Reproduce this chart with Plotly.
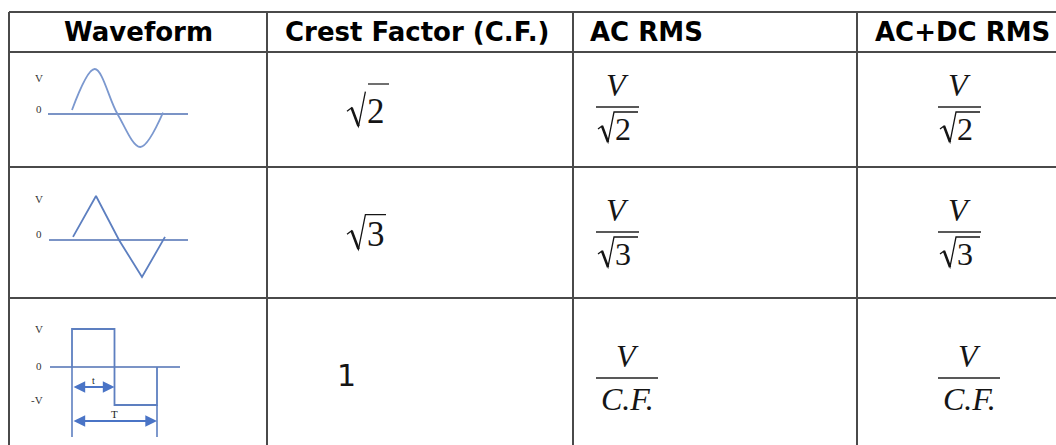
import plotly.graph_objects as go

# ---------------- data ----------------
headers = ["Waveform", "Crest Factor (C.F.)", "AC RMS", "AC+DC RMS"]
waveforms = ["sine", "triangle", "square"]
crest_factor = ["√2", "√3", "1"]
rms_numerator = ["V", "V", "V"]
ac_rms_denominator = ["√2", "√3", "C.F."]
acdc_rms_denominator = ["√2", "√3", "C.F."]

# normalised waveform outlines (phase 0..1, level -1..1)
sine_phase = [0, 0.25, 0.5, 0.75, 1.0]
sine_level = [0.09, 1, 0, -1, 0.03]
triangle_phase = [0, 0.25, 0.5, 0.75, 1.0]
triangle_level = [0.07, 1, 0, -1, 0.07]
square_phase = [0, 0, 0.5, 0.5, 1.0, 1.0]
square_level = [0, 1, 1, -1, -1, 0]
axis_labels = [["V", "0"], ["V", "0"], ["V", "0", "-V"]]
square_marks = ["t", "T"]

# ---------------- layout geometry ----------------
W, H = 1056, 445
col_x = [9, 267, 573, 857]
row_y = [12, 52, 167, 298]
GRID = "#4a4a4a"
WAVE = "#5d7fc0"
AXIS = "#4f70b3"
ARROW = "#4a74c6"
INK = "#151515"
MATH_FONT = "Liberation Serif"

fig = go.Figure()
shapes = []
ann = []

# grid lines
for y in row_y:
    shapes.append(dict(type="line", x0=col_x[0], x1=W, y0=y, y1=y,
                       line=dict(color=GRID, width=2)))
for x in col_x:
    shapes.append(dict(type="line", x0=x, x1=x, y0=row_y[0], y1=H,
                       line=dict(color=GRID, width=2)))

# header
hdr_x = [138, 283, 588, 873]
hdr_anchor = ["center", "left", "left", "left"]
for i, h in enumerate(headers):
    ann.append(dict(x=hdr_x[i], y=32, text=f"<b>{h}</b>", xanchor=hdr_anchor[i],
                    yanchor="middle", showarrow=False,
                    font=dict(family="DejaVu Sans", size=26, color="#000")))

# waveforms
geo = {
    "sine": dict(x0=72, per=91, ay=114, up=45, dn=33, ax=(48, 188),
                 ph=sine_phase, lv=sine_level, shape="spline", color="#7b98cf"),
    "triangle": dict(x0=73, per=92, ay=240, up=44, dn=37, ax=(49, 188),
                     ph=triangle_phase, lv=triangle_level, shape="linear", color=WAVE),
    "square": dict(x0=72, per=85, ay=367, up=38, dn=38, ax=(50, 180),
                   ph=square_phase, lv=square_level, shape="linear", color=WAVE),
}
label_y = [[78, 109], [199, 234], [329, 366, 400]]
for r, name in enumerate(waveforms):
    g = geo[name]
    fig.add_trace(go.Scatter(x=list(g["ax"]), y=[g["ay"], g["ay"]], mode="lines",
                             line=dict(color=AXIS, width=1.6), hoverinfo="skip"))
    xs = [g["x0"] + p * g["per"] for p in g["ph"]]
    ys = [g["ay"] - (l * g["up"] if l >= 0 else l * g["dn"]) for l in g["lv"]]
    fig.add_trace(go.Scatter(x=xs, y=ys, mode="lines",
                             line=dict(color=g["color"], width=1.8, shape=g["shape"],
                                       smoothing=1.0),
                             hoverinfo="skip"))
    for k, lab in enumerate(axis_labels[r]):
        ann.append(dict(x=39 if lab != "-V" else 37, y=label_y[r][k], text=lab,
                        showarrow=False, xanchor="center", yanchor="middle",
                        font=dict(family="Liberation Serif", size=11, color="#333")))

# square-wave dimension marks
g = geo["square"]
xl, xm, xr = g["x0"], g["x0"] + 0.5 * g["per"], g["x0"] + g["per"]
fig.add_trace(go.Scatter(x=[xl, xl], y=[g["ay"], 437], mode="lines",
                         line=dict(color=WAVE, width=1.6), hoverinfo="skip"))
fig.add_trace(go.Scatter(x=[xr, xr], y=[g["ay"] + g["dn"], 437], mode="lines",
                         line=dict(color=WAVE, width=1.6), hoverinfo="skip"))
for lab, xe, yy in [(square_marks[0], xm, 387), (square_marks[1], xr, 421)]:
    ann.append(dict(x=xe, y=yy, ax=xl, ay=yy, axref="x", ayref="y", xref="x", yref="y",
                    text="", showarrow=True, arrowside="end+start", arrowhead=2,
                    arrowsize=1.3, arrowwidth=1.8, arrowcolor=ARROW,
                    standoff=0, startstandoff=0))
    ann.append(dict(x=(xl + xe) / 2, y=yy - 7, text=lab, showarrow=False,
                    font=dict(family="Liberation Serif", size=10 if lab == "t" else 11,
                              color="#222")))


def radical(xl, c, s, bar_end=None):
    """draw a radical sign whose left edge is xl, centred on digit centre c"""
    p = [(xl, c + 1 * s), (xl + 4 * s, c - 2 * s), (xl + 10 * s, c + 14 * s),
         (xl + 16 * s, c - 16 * s)]
    if bar_end is not None:
        p.append((bar_end, c - 16 * s))
    path = "M " + " L ".join(f"{x:.1f},{y:.1f}" for x, y in p)
    shapes.append(dict(type="path", path=path, line=dict(color=INK, width=1.3)))
    shapes.append(dict(type="line", x0=p[1][0], y0=p[1][1], x1=p[2][0], y1=p[2][1],
                       line=dict(color=INK, width=2.6)))
    return xl + 17 * s


def digit(x, c, txt, size):
    ann.append(dict(x=x, y=c, text=txt, xanchor="left", yanchor="middle",
                    showarrow=False, font=dict(family=MATH_FONT, size=size, color=INK)))


# crest factor column
cf_y = [110, 233, 375]
for r, cf in enumerate(crest_factor):
    if cf.startswith("√"):
        has_bar = r == 1
        xd = radical(347, cf_y[r], 1.15, bar_end=386 if has_bar else None)
        digit(xd - 2, cf_y[r] + 1, cf[1:], 35)
    else:
        ann.append(dict(x=346, y=cf_y[r], text=cf, xanchor="center", yanchor="middle",
                        showarrow=False,
                        font=dict(family="DejaVu Sans", size=30, color=INK)))
# detached vinculum drawn above the first radical
shapes.append(dict(type="line", x0=368, x1=389, y0=84, y1=84, line=dict(color="#222", width=1.3)))


# fractions
def fraction(left, yline, num, den):
    width = 43 if den.startswith("√") else 62
    cx = left + width / 2
    shapes.append(dict(type="line", x0=left, x1=left + width, y0=yline, y1=yline,
                       line=dict(color="#222", width=1.6)))
    ann.append(dict(x=cx, y=yline - 22, text=f"<i>{num}</i>", showarrow=False,
                    xanchor="center", yanchor="middle",
                    font=dict(family=MATH_FONT, size=32, color=INK)))
    if den.startswith("√"):
        c = yline + 21
        xd = radical(left + 2, c, 1.0, bar_end=left + 42)
        digit(xd - 2, c + 1, den[1:], 32)
    else:
        ann.append(dict(x=cx, y=yline + 21, text=f"<i>{den}</i>", showarrow=False,
                        xanchor="center", yanchor="middle",
                        font=dict(family=MATH_FONT, size=32, color=INK)))


frac_y = [107, 232, 378]
for r in range(3):
    fraction(596, frac_y[r], rms_numerator[r], ac_rms_denominator[r])
    fraction(938, frac_y[r], rms_numerator[r], acdc_rms_denominator[r])

fig.update_layout(
    width=W, height=H, margin=dict(l=0, r=0, t=0, b=0),
    paper_bgcolor="white", plot_bgcolor="white", showlegend=False,
    xaxis=dict(range=[0, W], visible=False, fixedrange=True),
    yaxis=dict(range=[H, 0], visible=False, fixedrange=True),
    shapes=shapes, annotations=ann,
)
fig.write_html("out.html", config={"displayModeBar": False},
               post_script="document.body.style.margin='0';document.body.style.overflow='hidden';")
